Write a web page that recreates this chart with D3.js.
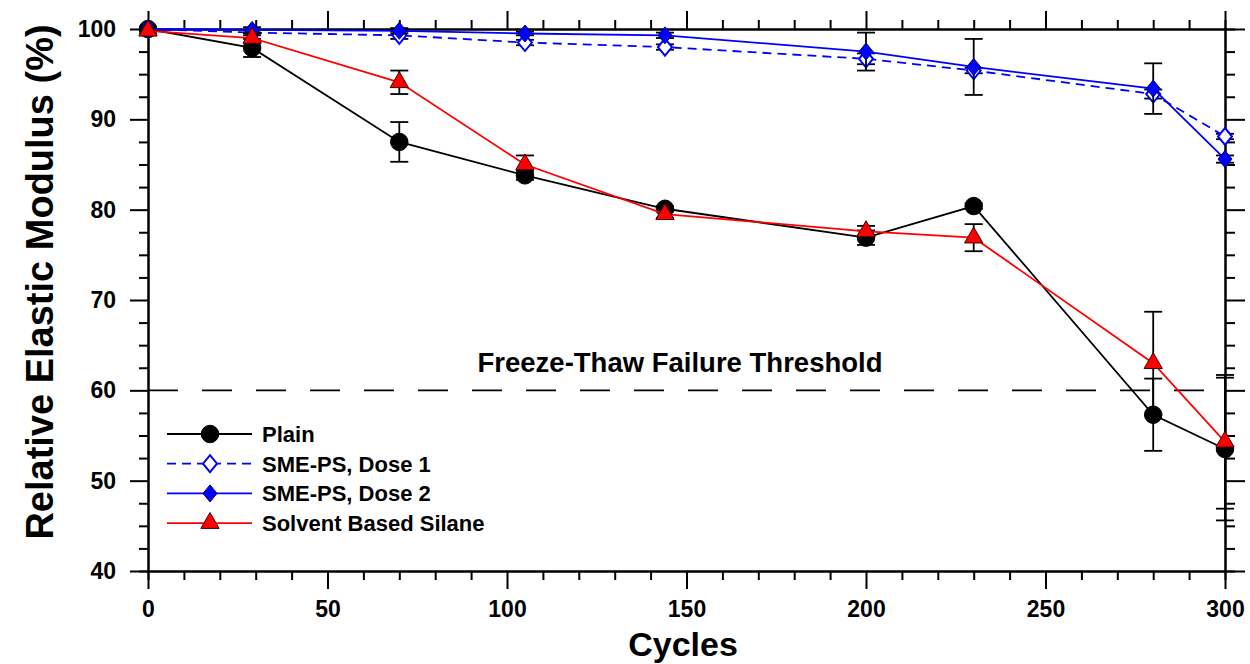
<!DOCTYPE html>
<html>
<head>
<meta charset="utf-8">
<script src="https://cdn.jsdelivr.net/npm/d3@7"></script>
<style>
  body { margin: 0; background: #fff; }
  svg text { font-family: "Liberation Sans", Arial, sans-serif; font-weight: bold; fill: #000; }
</style>
</head>
<body>
<div id="chart"></div>
<script>
// Freeze-thaw cycles (x) and relative elastic modulus (%) for each mix
const cycles = [0, 29, 70, 105, 144, 200, 230, 280, 300];

const plain = [100, 97.9, 87.5, 83.8, 80.1, 76.9, 80.4, 57.3, 53.5];
const plainErr = [0.2, 1.0, 2.2, 0.5, 0.3, 0.8, 0.3, 4.0, 7.9];

const dose1 = [100, 99.6, 99.3, 98.5, 98.0, 96.7, 95.4, 92.8, 88.1];
const dose1Err = [0.2, 0.3, 0.4, 0.3, 0.3, 0.6, 0.3, 0.5, 0.3];

const dose2 = [100, 99.9, 99.8, 99.5, 99.3, 97.5, 95.8, 93.4, 85.6];
const dose2Err = [0.2, 0.3, 0.3, 0.2, 0.3, 2.1, 3.1, 2.8, 0.4];

const silane = [99.8, 99.0, 94.1, 85.0, 79.5, 77.6, 76.9, 63.0, 54.3];
const silaneErr = [0.3, 0.5, 1.3, 1.0, 0.4, 0.6, 1.5, 5.7, 7.4];

const seriesNames = ["Plain", "SME-PS, Dose 1", "SME-PS, Dose 2", "Solvent Based Silane"];

const xTicks = [0, 50, 100, 150, 200, 250, 300];
const yTicks = [40, 50, 60, 70, 80, 90, 100];
const threshold = 60;
const thresholdLabel = "Freeze-Thaw Failure Threshold";

const width = 1250, height = 664;
const plotLeft = 148, plotRight = 1225, plotTop = 29, plotBottom = 571;

const x = d3.scaleLinear().domain([0, 300]).range([plotLeft, plotRight]);
const y = d3.scaleLinear().domain([40, 100]).range([plotBottom, plotTop]);

const svg = d3.select("#chart")
    .append("svg")
    .attr("width", width)
    .attr("height", height);

// marker shapes
const diamond = "M0,-8.5L7,0L0,8.5L-7,0Z";
const circle = d3.symbol().type(d3.symbolCircle).size(240)();
const triangle = d3.symbol().type(d3.symbolTriangle).size(145)();

const series = [
    { name: seriesNames[0], values: plain, errors: plainErr, color: "#000", dash: null,
      shape: circle, fill: "#000", stroke: "#000", sw: 1 },
    { name: seriesNames[1], values: dose1, errors: dose1Err, color: "#0000ff", dash: "9,6",
      shape: diamond, fill: "#fff", stroke: "#0000ff", sw: 2 },
    { name: seriesNames[2], values: dose2, errors: dose2Err, color: "#0000ff", dash: null,
      shape: diamond, fill: "#0000ff", stroke: "#000080", sw: 1 },
    { name: seriesNames[3], values: silane, errors: silaneErr, color: "#ff0000", dash: null,
      shape: triangle, fill: "#ff0000", stroke: "#400000", sw: 1 }
];

// Axes on all four sides, ticks pointing out
function styleAxis(g) {
    g.selectAll("path.domain").attr("stroke", "#000").attr("stroke-width", 2);
    g.selectAll(".tick line").attr("stroke", "#000").attr("stroke-width", 2);
    g.selectAll(".tick text").attr("font-size", 23).attr("fill", "#000");
    g.attr("font-family", null);
}

const xMinor = d3.range(0, 301, 10).filter(d => d % 50 !== 0);
const yMinor = d3.range(40, 100.1, 2.5).filter(d => d % 10 !== 0);

svg.append("g")
    .attr("transform", `translate(0,${plotBottom})`)
    .call(d3.axisBottom(x).tickValues(xTicks).tickSize(18).tickSizeOuter(0).tickPadding(12))
    .call(styleAxis);
svg.append("g")
    .attr("transform", `translate(0,${plotBottom})`)
    .call(d3.axisBottom(x).tickValues(xMinor).tickSize(9).tickFormat(""))
    .call(styleAxis);

svg.append("g")
    .attr("transform", `translate(0,${plotTop})`)
    .call(d3.axisTop(x).tickValues(xTicks).tickSize(18).tickSizeOuter(0).tickFormat(""))
    .call(styleAxis);
svg.append("g")
    .attr("transform", `translate(0,${plotTop})`)
    .call(d3.axisTop(x).tickValues(xMinor).tickSize(9).tickFormat(""))
    .call(styleAxis);

svg.append("g")
    .attr("transform", `translate(${plotLeft},0)`)
    .call(d3.axisLeft(y).tickValues(yTicks).tickSize(18).tickSizeOuter(0).tickPadding(14))
    .call(styleAxis);
svg.append("g")
    .attr("transform", `translate(${plotLeft},0)`)
    .call(d3.axisLeft(y).tickValues(yMinor).tickSize(9).tickFormat(""))
    .call(styleAxis);

svg.append("g")
    .attr("transform", `translate(${plotRight},0)`)
    .call(d3.axisRight(y).tickValues(yTicks).tickSize(20).tickSizeOuter(0).tickFormat(""))
    .call(styleAxis);
svg.append("g")
    .attr("transform", `translate(${plotRight},0)`)
    .call(d3.axisRight(y).tickValues(yMinor).tickSize(10).tickFormat(""))
    .call(styleAxis);

// Axis titles
svg.append("text")
    .attr("transform", `translate(53,282) rotate(-90)`)
    .attr("text-anchor", "middle")
    .attr("font-size", 38)
    .text("Relative Elastic Modulus (%)");

svg.append("text")
    .attr("x", 683)
    .attr("y", 656)
    .attr("text-anchor", "middle")
    .attr("font-size", 34)
    .text("Cycles");

// Failure threshold
svg.append("line")
    .attr("x1", plotLeft).attr("x2", plotRight)
    .attr("y1", y(threshold)).attr("y2", y(threshold))
    .attr("stroke", "#000")
    .attr("stroke-width", 1.8)
    .attr("stroke-dasharray", "30,24");

svg.append("text")
    .attr("x", 680)
    .attr("y", 372)
    .attr("text-anchor", "middle")
    .attr("font-size", 27.5)
    .text(thresholdLabel);

// Series: error bars, line, markers
const line = d3.line().x((d, i) => x(cycles[i])).y(d => y(d));

series.forEach(s => {
    const g = svg.append("g");

    const eb = g.append("g").selectAll("g")
        .data(s.values)
        .join("g")
        .attr("stroke", "#000")
        .attr("stroke-width", 1.8);
    eb.append("line")
        .attr("x1", (d, i) => x(cycles[i])).attr("x2", (d, i) => x(cycles[i]))
        .attr("y1", (d, i) => y(d - s.errors[i])).attr("y2", (d, i) => y(d + s.errors[i]));
    eb.append("line")
        .attr("x1", (d, i) => x(cycles[i]) - 9).attr("x2", (d, i) => x(cycles[i]) + 9)
        .attr("y1", (d, i) => y(d - s.errors[i])).attr("y2", (d, i) => y(d - s.errors[i]));
    eb.append("line")
        .attr("x1", (d, i) => x(cycles[i]) - 9).attr("x2", (d, i) => x(cycles[i]) + 9)
        .attr("y1", (d, i) => y(d + s.errors[i])).attr("y2", (d, i) => y(d + s.errors[i]));

    g.append("path")
        .datum(s.values)
        .attr("d", line)
        .attr("fill", "none")
        .attr("stroke", s.color)
        .attr("stroke-width", 1.8)
        .attr("stroke-dasharray", s.dash);

    g.append("g").selectAll("path")
        .data(s.values)
        .join("path")
        .attr("transform", (d, i) => `translate(${x(cycles[i])},${y(d)})`)
        .attr("d", s.shape)
        .attr("fill", s.fill)
        .attr("stroke", s.stroke)
        .attr("stroke-width", s.sw);
});

// Legend
const legend = svg.append("g").attr("transform", "translate(167,434)");
const rows = legend.selectAll("g")
    .data(series)
    .join("g")
    .attr("transform", (d, i) => `translate(0,${i * 29.7})`);
rows.append("line")
    .attr("x1", 0).attr("x2", 85)
    .attr("stroke", d => d.color)
    .attr("stroke-width", 1.8)
    .attr("stroke-dasharray", d => d.dash);
rows.append("path")
    .attr("transform", "translate(43,0)")
    .attr("d", d => d.shape)
    .attr("fill", d => d.fill)
    .attr("stroke", d => d.stroke)
    .attr("stroke-width", d => d.sw);
rows.append("text")
    .attr("x", 95)
    .attr("dy", "0.36em")
    .attr("font-size", 22)
    .text(d => d.name);
</script>
</body>
</html>
